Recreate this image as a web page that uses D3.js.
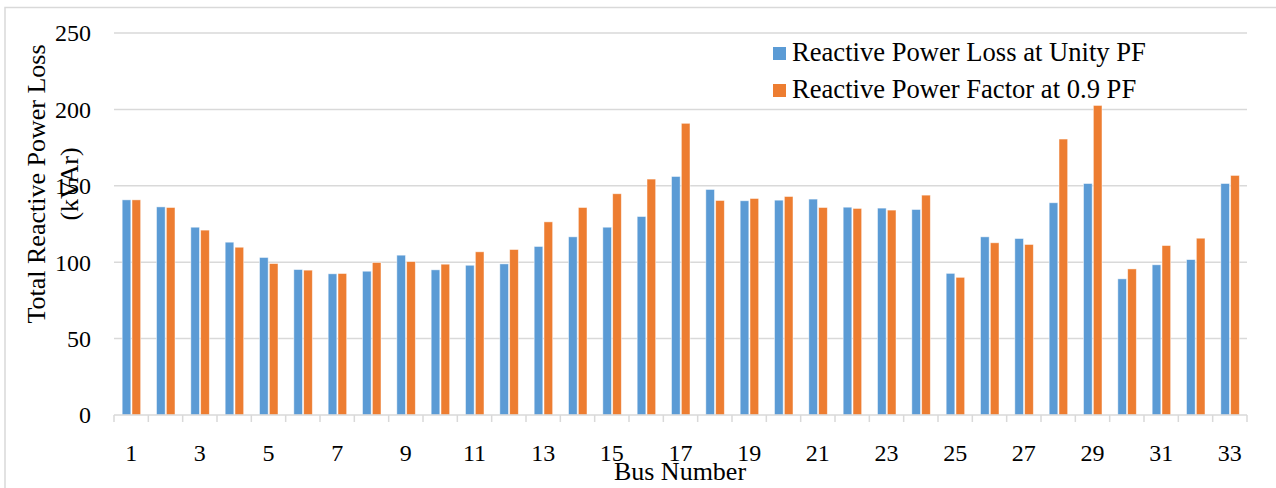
<!DOCTYPE html>
<html>
<head>
<meta charset="utf-8">
<script src="https://cdn.jsdelivr.net/npm/d3@7"></script>
<style>
  body { margin: 0; background: #fff; }
  svg text { font-family: "Liberation Serif", "Times New Roman", serif; fill: #000; }
</style>
</head>
<body>
<div id="chart"></div>
<script>
// Bus numbers and the two series (kVAr)
const buses = d3.range(1, 34);
const unityLoss = [140.8, 136.2, 122.9, 113.1, 103.1, 95.2, 92.4, 94.1, 104.6, 95.0,
                   98.0, 98.9, 110.3, 116.6, 122.9, 129.9, 156.1, 147.6, 140.2, 140.6,
                   141.3, 136.0, 135.4, 134.5, 92.7, 116.6, 115.5, 138.9, 151.5, 89.1,
                   98.3, 101.7, 151.5];
const pf09Loss = [140.8, 135.8, 121.0, 109.8, 99.1, 94.8, 92.6, 99.8, 100.4, 98.7,
                  106.8, 108.3, 126.4, 135.8, 144.8, 154.4, 190.9, 140.4, 141.7, 143.0,
                  135.8, 135.2, 134.1, 143.9, 90.1, 112.7, 111.6, 180.6, 202.6, 95.6,
                  110.9, 115.7, 156.8];
const seriesNames = ["Reactive Power Loss at Unity PF", "Reactive Power Factor at 0.9 PF"];
const colors = ["#5B9BD5", "#ED7D31"];
const yTicks = [0, 50, 100, 150, 200, 250];

const width = 1276, height = 488;
const svg = d3.select("#chart").append("svg")
    .attr("width", width)
    .attr("height", height);

// outer chart border (only top/left visible inside the picture)
svg.append("rect")
    .attr("x", 5).attr("y", 7.5)
    .attr("width", 1400).attr("height", 600)
    .attr("fill", "none")
    .attr("stroke", "#d9d9d9")
    .attr("stroke-width", 1.5);

const x = d3.scaleBand().domain(buses).range([114, 1247]).padding(0);
const y = d3.scaleLinear().domain([0, 250]).range([415, 33]);

// grid lines
svg.append("g")
   .selectAll("line")
   .data(yTicks.filter(d => d > 0))
   .join("line")
   .attr("x1", 114).attr("x2", 1247)
   .attr("y1", d => y(d)).attr("y2", d => y(d))
   .attr("stroke", "#d9d9d9")
   .attr("stroke-width", 1.5);

// y tick labels
svg.append("g")
   .selectAll("text")
   .data(yTicks)
   .join("text")
   .attr("x", 91)
   .attr("y", d => y(d))
   .attr("dy", "0.35em")
   .attr("text-anchor", "end")
   .attr("font-size", 24)
   .text(d => d);

// bars
const inner = d3.scaleBand().domain([0, 1])
    .range([-9, 9.5]).paddingInner(0.12);

const groups = svg.append("g")
   .selectAll("g")
   .data(buses)
   .join("g")
   .attr("transform", d => `translate(${x(d) + x.bandwidth() / 2},0)`);

groups.selectAll("rect")
   .data((d, i) => [unityLoss[i], pf09Loss[i]])
   .join("rect")
   .attr("x", (d, j) => inner(j))
   .attr("width", inner.bandwidth())
   .attr("y", d => y(d))
   .attr("height", d => y(0) - y(d))
   .attr("fill", (d, j) => colors[j])
   .attr("stroke", "#fff")
   .attr("stroke-opacity", 0.6)
   .attr("stroke-width", 0.8);

// x axis line and ticks between categories
svg.append("line")
   .attr("x1", 114).attr("x2", 1247)
   .attr("y1", 415).attr("y2", 415)
   .attr("stroke", "#d9d9d9")
   .attr("stroke-width", 1.5);

svg.append("g")
   .selectAll("line")
   .data(buses.concat([34]))
   .join("line")
   .attr("x1", d => d <= 33 ? x(d) : x(33) + x.bandwidth())
   .attr("x2", d => d <= 33 ? x(d) : x(33) + x.bandwidth())
   .attr("y1", 415).attr("y2", 422)
   .attr("stroke", "#d9d9d9")
   .attr("stroke-width", 1.5);

// x tick labels, every other bus
svg.append("g")
   .selectAll("text")
   .data(buses.filter(d => d % 2 === 1))
   .join("text")
   .attr("x", d => x(d) + x.bandwidth() / 2)
   .attr("y", 453)
   .attr("dy", "0.35em")
   .attr("text-anchor", "middle")
   .attr("font-size", 24)
   .text(d => d);

// axis titles
svg.append("text")
   .attr("x", 680).attr("y", 480)
   .attr("text-anchor", "middle")
   .attr("font-size", 26)
   .text("Bus Number");

const yTitle = svg.append("text")
   .attr("transform", "translate(45,184) rotate(-90)")
   .attr("text-anchor", "middle")
   .attr("font-size", 26);
yTitle.append("tspan").attr("x", 0).attr("dy", 0).text("Total Reactive Power Loss");
yTitle.append("tspan").attr("x", 0).attr("dy", 33).text("(kVAr)");

// legend
const legend = svg.append("g")
   .selectAll("g")
   .data(seriesNames)
   .join("g")
   .attr("transform", (d, i) => `translate(773,${47 + i * 37})`);

legend.append("rect")
   .attr("width", 13).attr("height", 13)
   .attr("fill", (d, i) => colors[i]);

legend.append("text")
   .attr("x", 19).attr("y", 14)
   .attr("font-size", 26.6)
   .text(d => d);
</script>
</body>
</html>
